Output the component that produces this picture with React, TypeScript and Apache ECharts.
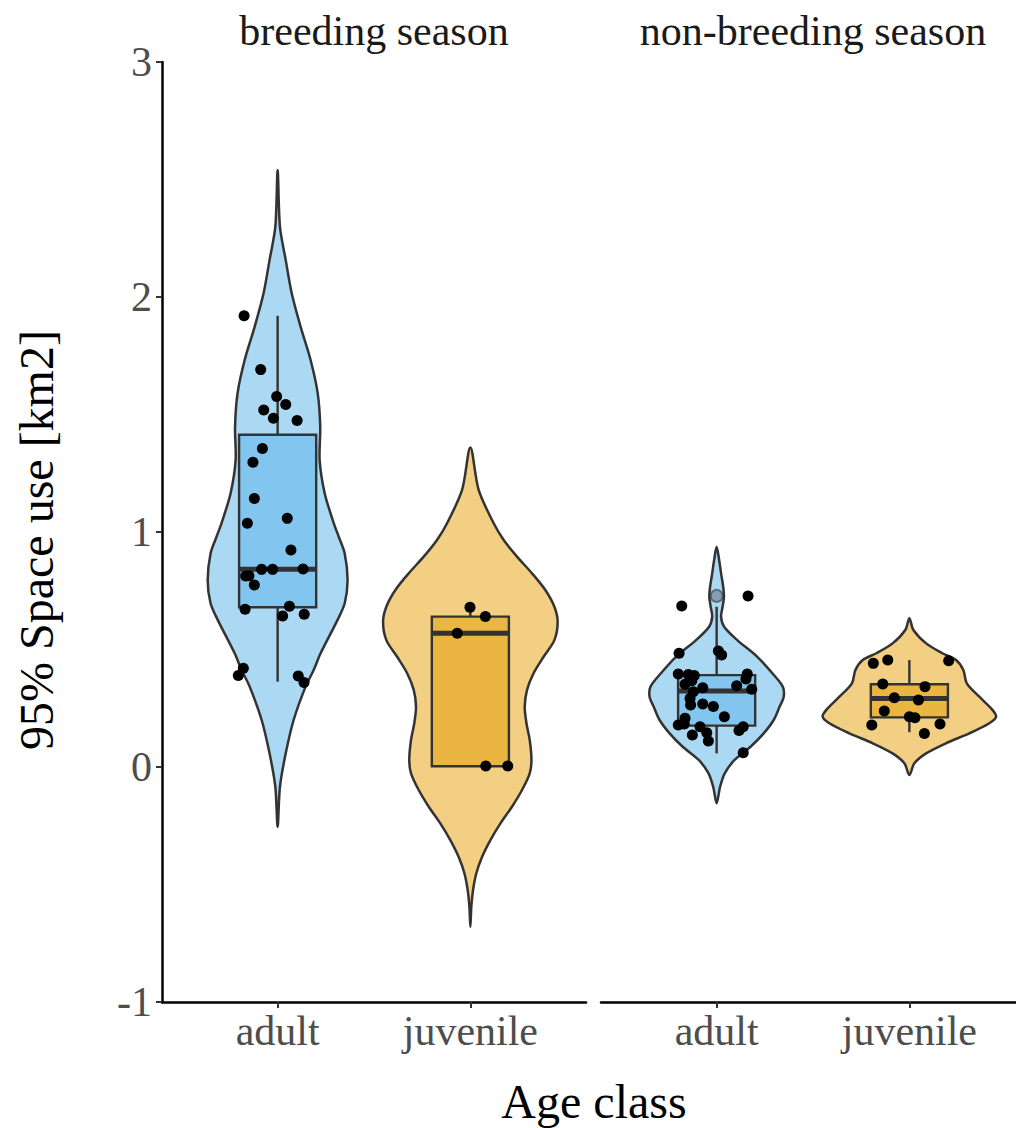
import React, { useEffect, useRef } from "react";
import * as echarts from "echarts";

const FONT = "'Liberation Serif', 'DejaVu Serif', serif";

const categories = ["adult", "juvenile"];
const seasons = ["breeding season", "non-breeding season"];
const yAxisTitle = "95% Space use [km2]";
const xAxisTitle = "Age class";

// Violin outlines: y values (top to bottom) and half-widths in x units
const violinBreedAdultY = [2.54, 2.299, 2.157, 2.016, 1.874, 1.732, 1.59, 1.448, 1.306, 1.165, 1.038, 0.98, 0.909, 0.796, 0.697, 0.626, 0.484, 0.413, 0.342, 0.2, 0.058, -0.084, -0.254];
const violinBreedAdultW = [0, 0.012, 0.042, 0.073, 0.119, 0.171, 0.208, 0.221, 0.218, 0.244, 0.291, 0.317, 0.348, 0.363, 0.348, 0.311, 0.223, 0.187, 0.145, 0.083, 0.042, 0.012, 0];

const violinBreedJuvY = [1.36, 1.179, 1.037, 0.966, 0.895, 0.824, 0.753, 0.682, 0.618, 0.54, 0.469, 0.399, 0.328, 0.257, 0.186, 0.115, 0.03, -0.027, -0.098, -0.169, -0.24, -0.311, -0.382, -0.452, -0.523, -0.594, -0.68];
const violinBreedJuvW = [0, 0.043, 0.121, 0.173, 0.242, 0.32, 0.389, 0.436, 0.453, 0.436, 0.38, 0.328, 0.294, 0.282, 0.291, 0.308, 0.317, 0.308, 0.268, 0.216, 0.156, 0.104, 0.061, 0.031, 0.014, 0.005, 0];

const violinNonAdultY = [0.937, 0.881, 0.824, 0.767, 0.725, 0.682, 0.64, 0.597, 0.54, 0.469, 0.399, 0.342, 0.299, 0.257, 0.2, 0.143, 0.086, 0.03, -0.027, -0.084, -0.154];
const violinNonAdultW = [0, 0.013, 0.023, 0.034, 0.038, 0.031, 0.023, 0.039, 0.107, 0.211, 0.289, 0.343, 0.348, 0.327, 0.296, 0.244, 0.176, 0.093, 0.042, 0.018, 0];

const violinNonJuvY = [0.633, 0.583, 0.526, 0.484, 0.455, 0.413, 0.356, 0.299, 0.243, 0.214, 0.186, 0.143, 0.101, 0.058, 0.016, -0.034];
const violinNonJuvW = [0, 0.021, 0.087, 0.171, 0.242, 0.28, 0.298, 0.363, 0.431, 0.45, 0.415, 0.311, 0.19, 0.087, 0.026, 0];

// Boxes: [category position, lower whisker, Q1, median, Q3, upper whisker]
const boxesBreeding = [
  [1, 0.363, 0.68, 0.841, 1.414, 1.92],
  [2, 0.0, 0.003, 0.569, 0.64, 0.68],
];
const boxesNonBreeding = [
  [1, 0.058, 0.176, 0.323, 0.391, 0.682],
  [2, 0.148, 0.211, 0.292, 0.352, 0.455],
];
const outliersNonBreeding = [[1, 0.728]];

// Jittered observations: [x position, value]
const pointsBreedAdult = [
  [0.826, 1.92], [0.912, 1.691], [0.995, 1.577], [1.042, 1.543], [0.928, 1.519], [0.978, 1.484],
  [1.101, 1.474], [0.921, 1.355], [0.872, 1.297], [0.879, 1.143], [1.05, 1.058], [0.843, 1.037],
  [1.069, 0.923], [0.917, 0.841], [0.974, 0.841], [1.132, 0.843], [0.834, 0.813], [0.851, 0.814],
  [0.879, 0.774], [0.831, 0.671], [1.061, 0.684], [1.026, 0.643], [1.138, 0.65], [0.822, 0.42],
  [0.796, 0.389], [1.107, 0.387], [1.137, 0.36],
];
const pointsBreedJuv = [
  [1.998, 0.68], [2.078, 0.64], [1.932, 0.569], [2.08, 0.004], [2.194, 0.004],
];
const pointsNonAdult = [
  [0.819, 0.685], [1.163, 0.728], [0.805, 0.484], [1.009, 0.494], [1.026, 0.477], [0.801, 0.396],
  [0.853, 0.394], [0.884, 0.389], [1.159, 0.396], [1.152, 0.374], [0.836, 0.352], [0.871, 0.367],
  [0.928, 0.337], [1.104, 0.346], [1.182, 0.331], [0.879, 0.32], [0.862, 0.292], [0.865, 0.264],
  [0.928, 0.268], [0.983, 0.257], [1.04, 0.214], [0.836, 0.207], [0.801, 0.179], [0.832, 0.183],
  [0.914, 0.171], [1.138, 0.171], [1.116, 0.155], [0.874, 0.136], [0.949, 0.146], [0.957, 0.111],
  [1.138, 0.061],
];
const pointsNonJuv = [
  [1.813, 0.441], [1.888, 0.455], [2.204, 0.452], [1.862, 0.353], [2.081, 0.342], [1.922, 0.295],
  [2.047, 0.285], [1.87, 0.238], [2.0, 0.214], [2.029, 0.21], [1.805, 0.179], [2.159, 0.183],
  [2.078, 0.143],
];

const COLORS = {
  violinAdult: "#ABD9F3",
  boxAdult: "#82C5EE",
  violinJuv: "#F3CF83",
  boxJuv: "#EAB541",
  outline: "#333333",
};

// Right facet is cut by the page edge: its x-range is shortened in proportion
const X_MIN = 0.4;
const X_MAX = 2.6;
const LEFT_PANEL_W = 424;
const RIGHT_PANEL_VISIBLE_W = 415;
const X_MAX_RIGHT = X_MIN + ((X_MAX - X_MIN) * RIGHT_PANEL_VISIBLE_W) / LEFT_PANEL_W;

function violinSeries(gridIndex: number, center: number, ys: number[], ws: number[], fill: string) {
  return {
    type: "custom",
    xAxisIndex: gridIndex,
    yAxisIndex: gridIndex,
    silent: true,
    clip: false,
    data: [[center, 0]],
    renderItem: (params: any, api: any) => {
      const c = api.value(0);
      const pts: number[][] = [];
      for (let i = 0; i < ys.length; i++) pts.push(api.coord([c + ws[i], ys[i]]));
      for (let i = ys.length - 2; i >= 1; i--) pts.push(api.coord([c - ws[i], ys[i]]));
      return {
        type: "polygon",
        shape: { points: pts, smooth: 0.3 },
        style: { fill, stroke: COLORS.outline, lineWidth: 2.5 },
      };
    },
  };
}

function boxSeries(gridIndex: number, boxes: number[][]) {
  return {
    type: "custom",
    xAxisIndex: gridIndex,
    yAxisIndex: gridIndex,
    silent: true,
    clip: false,
    data: boxes,
    renderItem: (params: any, api: any) => {
      const x = api.value(0);
      const low = api.value(1), q1 = api.value(2), med = api.value(3), q3 = api.value(4), high = api.value(5);
      const half = 0.2;
      const fill = x < 1.5 ? COLORS.boxAdult : COLORS.boxJuv;
      const tl = api.coord([x - half, q3]);
      const br = api.coord([x + half, q1]);
      const cTop = api.coord([x, high]);
      const cQ3 = api.coord([x, q3]);
      const cQ1 = api.coord([x, q1]);
      const cLow = api.coord([x, low]);
      const mL = api.coord([x - half, med]);
      const mR = api.coord([x + half, med]);
      const st = { stroke: COLORS.outline, lineWidth: 2.4 };
      return {
        type: "group",
        children: [
          { type: "line", shape: { x1: cTop[0], y1: cTop[1], x2: cQ3[0], y2: cQ3[1] }, style: st },
          { type: "line", shape: { x1: cQ1[0], y1: cQ1[1], x2: cLow[0], y2: cLow[1] }, style: st },
          {
            type: "rect",
            shape: { x: tl[0], y: tl[1], width: br[0] - tl[0], height: br[1] - tl[1] },
            style: { fill, stroke: COLORS.outline, lineWidth: 2.4 },
          },
          { type: "line", shape: { x1: mL[0], y1: mL[1], x2: mR[0], y2: mR[1] }, style: { stroke: COLORS.outline, lineWidth: 5 } },
        ],
      };
    },
  };
}

function pointSeries(gridIndex: number, data: number[][]) {
  return {
    type: "scatter",
    xAxisIndex: gridIndex,
    yAxisIndex: gridIndex,
    silent: true,
    symbol: "circle",
    symbolSize: 11,
    itemStyle: { color: "#000000", opacity: 1 },
    data,
  };
}

function xAxisDef(gridIndex: number, max: number) {
  return {
    gridIndex,
    type: "value",
    min: X_MIN,
    max,
    axisLine: { show: true, onZero: false, lineStyle: { color: "#000", width: 2.5 } },
    axisTick: { show: true, customValues: [1, 2], length: 6, lineStyle: { color: "#333", width: 2 } },
    axisLabel: {
      show: true,
      customValues: [1, 2],
      formatter: (v: number) => categories[Math.round(v) - 1] ?? "",
      color: "#4D4D4D",
      fontSize: 42,
      fontFamily: FONT,
      margin: 8,
    },
    splitLine: { show: false },
  };
}

export default function App() {
  const ref = useRef<HTMLDivElement>(null);
  useEffect(() => {
    document.body.style.margin = "0";
    if (!ref.current) return;
    const chart = echarts.init(ref.current, undefined, { renderer: "svg" });
    const option = {
      animation: false,
      backgroundColor: "#ffffff",
      grid: [
        { left: 162, top: 62, width: LEFT_PANEL_W, height: 940 },
        { left: 601, top: 62, width: RIGHT_PANEL_VISIBLE_W, height: 940 },
      ],
      xAxis: [xAxisDef(0, X_MAX), xAxisDef(1, X_MAX_RIGHT)],
      yAxis: [
        {
          gridIndex: 0,
          type: "value",
          min: -1,
          max: 3,
          interval: 1,
          axisLine: { show: true, onZero: false, lineStyle: { color: "#000", width: 2.5 } },
          axisTick: { show: true, length: 6, lineStyle: { color: "#333", width: 2 } },
          axisLabel: { color: "#4D4D4D", fontSize: 42, fontFamily: FONT, margin: 10 },
          splitLine: { show: false },
        },
        { gridIndex: 1, type: "value", min: -1, max: 3, interval: 1, show: false, splitLine: { show: false } },
      ],
      graphic: [
        { type: "text", x: 374, y: 31, style: { text: seasons[0], fill: "#1A1A1A", font: `42px ${FONT}`, textAlign: "center", textVerticalAlign: "middle" } },
        { type: "text", x: 813, y: 31, style: { text: seasons[1], fill: "#1A1A1A", font: `42px ${FONT}`, textAlign: "center", textVerticalAlign: "middle" } },
        { type: "text", x: 594, y: 1101, style: { text: xAxisTitle, fill: "#000", font: `48px ${FONT}`, textAlign: "center", textVerticalAlign: "middle" } },
        { type: "text", x: 36, y: 540, rotation: Math.PI / 2, style: { text: yAxisTitle, fill: "#000", font: `48px ${FONT}`, textAlign: "center", textVerticalAlign: "middle" } },
      ],
      series: [
        violinSeries(0, 1, violinBreedAdultY, violinBreedAdultW, COLORS.violinAdult),
        violinSeries(0, 2, violinBreedJuvY, violinBreedJuvW, COLORS.violinJuv),
        violinSeries(1, 1, violinNonAdultY, violinNonAdultW, COLORS.violinAdult),
        violinSeries(1, 2, violinNonJuvY, violinNonJuvW, COLORS.violinJuv),
        boxSeries(0, boxesBreeding),
        boxSeries(1, boxesNonBreeding),
        {
          type: "scatter",
          xAxisIndex: 1,
          yAxisIndex: 1,
          silent: true,
          symbol: "circle",
          symbolSize: 12,
          itemStyle: { color: "rgba(60,60,60,0.45)", borderColor: "rgba(50,50,50,0.7)", borderWidth: 2 },
          data: outliersNonBreeding,
        },
        pointSeries(0, pointsBreedAdult),
        pointSeries(0, pointsBreedJuv),
        pointSeries(1, pointsNonAdult),
        pointSeries(1, pointsNonJuv),
      ],
    };
    chart.setOption(option as any);
    return () => chart.dispose();
  }, []);
  return <div ref={ref} style={{ width: 1016, height: 1128, position: "absolute", left: 0, top: 0 }} />;
}
